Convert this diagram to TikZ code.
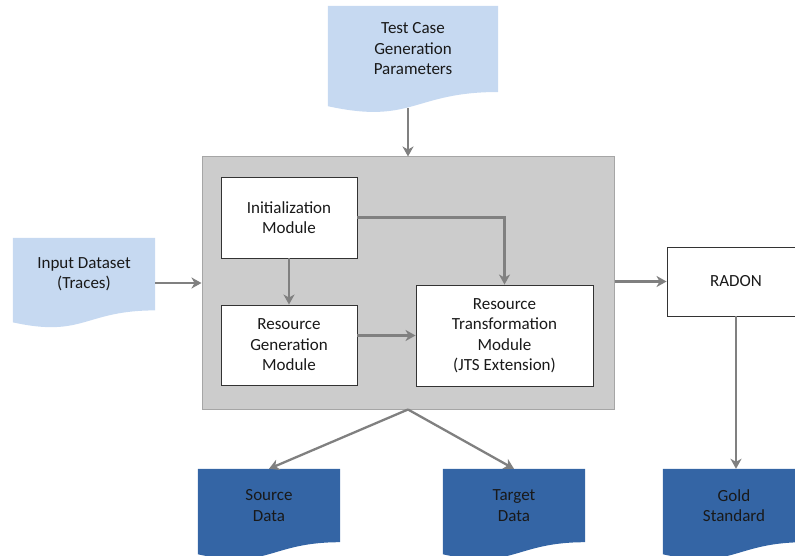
\documentclass[tikz,border=0pt]{standalone}
\usepackage{fontspec}
\setmainfont{Carlito}
\usepackage{xcolor}
\usepackage{tikz}
\usetikzlibrary{positioning,calc,arrows.meta}
\definecolor{docLight}{RGB}{198,217,241}
\definecolor{docDark}{RGB}{52,101,165}
\pgfdeclarelayer{background}
\pgfsetlayers{background,main}
\tikzset{
    module/.style={rectangle, draw=black!80, line width=0.9pt, fill=white, align=center, font=\fontsize{17}{20.5}\selectfont, text=black!90},
    doc/.style={rectangle, align=center, font=\fontsize{17}{20.5}\selectfont, text=black!90},
    panel/.style={rectangle, draw=black!35, line width=1pt, fill=gray!40},
    flow/.style={draw=gray, line width=2.3pt, -{Stealth[length=10pt,width=11pt,inset=3pt]}},
    thinflow/.style={flow, line width=1.8pt}
}

\begin{document}
\begin{tikzpicture}[x=1pt, y=-1pt]
    \path[use as bounding box] (0,0) rectangle (795,556);

    % Rahmen
    \node[panel, minimum width=412, minimum height=252] (box) at (408,283) {};

    % Module
    \node[module, minimum width=136, minimum height=81] (init) at (289,217.5) {Initialization\\Module};
    \node[module, minimum width=136, minimum height=80] (resgen) at (289,345) {Resource\\Generation\\Module};
    \node[module, minimum width=177, minimum height=101] (restrans) at (504.5,335.5) {Resource\\Transformation\\Module\\(JTS Extension)};
    \node[module, minimum width=138, minimum height=69] (radon) at (736,281.5) {RADON};

    % Dokumente
    \node[doc, minimum width=170, minimum height=85.8] (params) at (413,48.9) {Test Case\\Generation\\Parameters};
    \node[doc, minimum width=142, minimum height=72.2] (input) at (84,274.1) {Input Dataset\\(Traces)};
    \node[doc, minimum width=142, minimum height=73] (source) at (269,505.5) {Source\\Data};
    \node[doc, minimum width=142, minimum height=73] (target) at (514,505.5) {Target\\Data};
    \node[doc, minimum width=142, minimum height=73] (gold) at (734,505.5) {Gold\\Standard};

    \begin{pgfonlayer}{background}
        \foreach \n/\c in {params/docLight, input/docLight, source/docDark, target/docDark, gold/docDark}
            \fill[\c] (\n.north west) -- (\n.north east) -- (\n.south east)
                .. controls (\n.south) and ($(\n.north)!1.381!(\n.south)$)
                .. ($(\n.north west)!1.1646!(\n.south west)$) -- cycle;
    \end{pgfonlayer}

    % Pfeile
    \coordinate (paramsout) at (408,108);
    \draw[flow] (paramsout) -- (box.north);
    \draw[flow] (input.east |- box.west) -- (box.west);
    \draw[flow] (box.east |- radon.west) -- (radon.west);
    \draw[thinflow] (init) -- (resgen);
    \draw[flow] (init.east) -| (restrans.north);
    \draw[flow] (resgen.east |- restrans.west) -- (restrans.west);
    \draw[flow] (box.south) -- (source.north);
    \draw[flow] (box.south) -- (target.north);
    \draw[thinflow] (radon.south) -- (radon.south |- gold.north);

\end{tikzpicture}
\end{document}
